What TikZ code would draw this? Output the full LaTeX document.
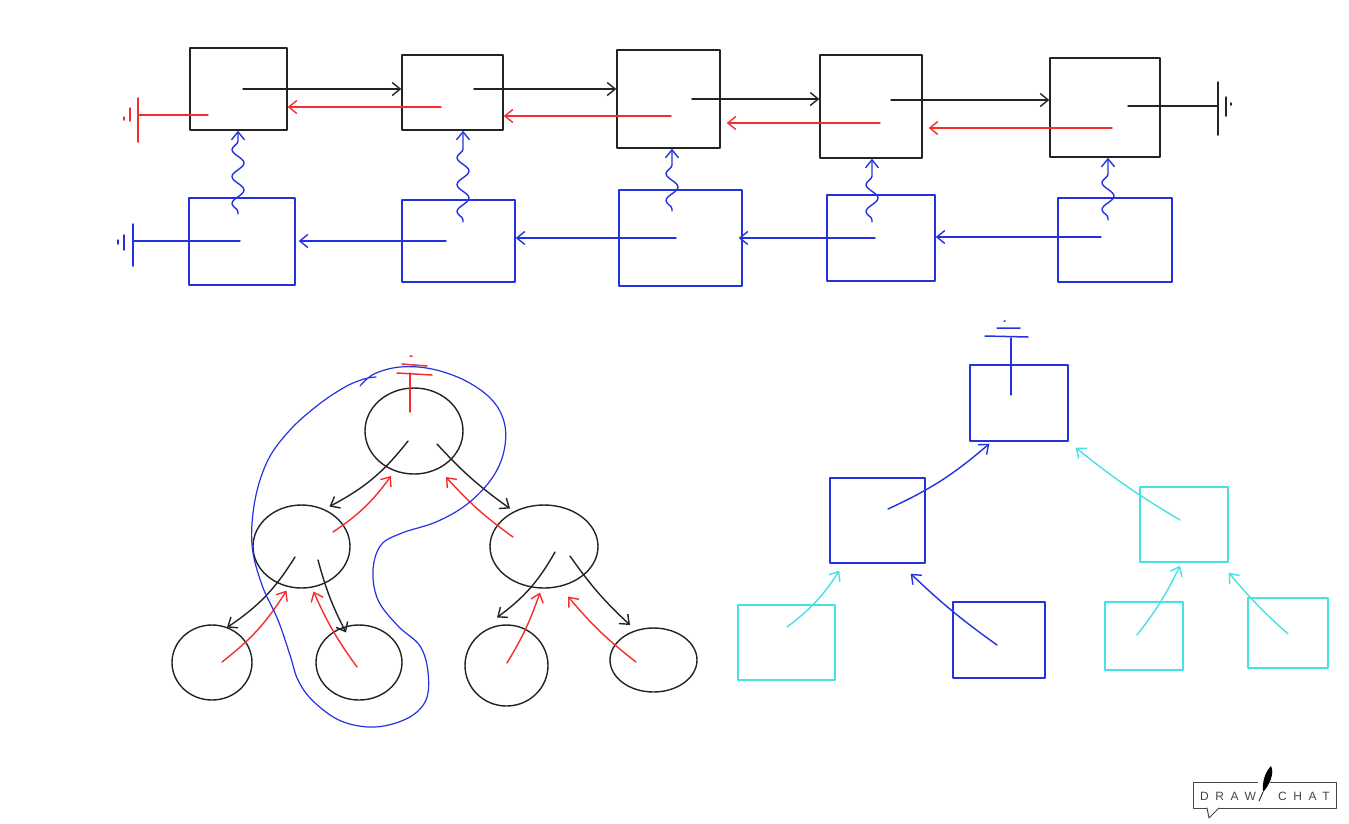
\documentclass[tikz,border=0pt]{standalone}
\usepackage{fontspec}
\newfontfamily\logofont[LetterSpace=55]{Liberation Sans}
\usetikzlibrary{shapes.geometric,arrows.meta,decorations.pathmorphing,calc}
\definecolor{skred}{RGB}{245,45,45}
\definecolor{skblue}{RGB}{35,50,225}
\definecolor{skcyan}{RGB}{70,225,225}
\definecolor{skblack}{RGB}{35,35,35}
\definecolor{skgray}{RGB}{70,70,70}
\begin{document}
\begin{tikzpicture}[x=1pt,y=-1pt, line width=1.4pt, line cap=round, line join=round,
  box/.style={draw, rectangle, inner sep=0pt},
  blob/.style={draw, ellipse, inner sep=0pt},
  tip/.style={-{Straight Barb[length=8pt,width=13pt]}},
  wave/.style={decorate, decoration={snake, amplitude=6pt, segment length=27pt, pre length=2pt, post length=8pt}},
  gnd/.style={line width=1.5pt}
]
\useasboundingbox (0,0) rectangle (1349,823);

% ---------- top row: black boxes ----------
\node[box, skblack, minimum width=97pt, minimum height=82pt] (B1) at (238.5,89) {};
\node[box, skblack, minimum width=101pt, minimum height=75pt] (B2) at (452.5,92.5) {};
\node[box, skblack, minimum width=103pt, minimum height=98pt] (B3) at (668.5,99) {};
\node[box, skblack, minimum width=102pt, minimum height=103pt] (B4) at (871,106.5) {};
\node[box, skblack, minimum width=110pt, minimum height=99pt] (B5) at (1105,107.5) {};

% ---------- second row: blue boxes ----------
\node[box, skblue, minimum width=106pt, minimum height=87pt] (L1) at (242,241.5) {};
\node[box, skblue, minimum width=113pt, minimum height=82pt] (L2) at (458.5,241) {};
\node[box, skblue, minimum width=123pt, minimum height=96pt] (L3) at (680.5,238) {};
\node[box, skblue, minimum width=108pt, minimum height=86pt] (L4) at (881,238) {};
\node[box, skblue, minimum width=114pt, minimum height=84pt] (L5) at (1115,240) {};

% black forward arrows
\coordinate (k1) at (243,89);
\coordinate (k2) at (474,89);
\coordinate (k3) at (692,99);
\coordinate (k4) at (891,100);
\coordinate (k5) at (1128,106);
\coordinate (gk) at (1218,106);
\draw[skblack, tip] (k1) -- (k1 -| B2.west);
\draw[skblack, tip] (k2) -- (k2 -| B3.west);
\draw[skblack, tip] (k3) -- (k3 -| B4.west);
\draw[skblack, tip] (k4) -- (k4 -| B5.west);
\draw[skblack] (k5) -- (gk);
\draw[skblack, gnd] (1218,82) -- (1218,135) (1226,97) -- (1226,116) (1231,103) -- (1231,105);

% red backward arrows
\coordinate (r1) at (208,115);
\coordinate (gr) at (138,115);
\coordinate (r2) at (441,107);
\coordinate (r3) at (671,116);
\coordinate (r4) at (880,123);
\coordinate (r5) at (1112,128);
\draw[skred] (r1) -- (gr);
\draw[skred, gnd] (138,98) -- (138,142) (130,108) -- (130,121) (124,117) -- (124,120);
\draw[skred, tip] (r2) -- (r2 -| B1.east);
\draw[skred, tip] (r3) -- (r3 -| B2.east);
\draw[skred, tip] (r4) -- ($(r4 -| B3.east)+(6,0)$);
\draw[skred, tip] (r5) -- ($(r5 -| B4.east)+(6,0)$);

% blue backward arrows
\coordinate (u1) at (240,241);
\coordinate (gu) at (133,241);
\coordinate (u2) at (446,241);
\coordinate (u3) at (676,238);
\coordinate (u4) at (875,238);
\coordinate (u5) at (1101,237);
\draw[skblue] (u1) -- (gu);
\draw[skblue, gnd] (133,224) -- (133,266) (124,235) -- (124,250) (118,240) -- (118,244);
\draw[skblue, tip] (u2) -- ($(u2 -| L1.east)+(3,0)$);
\draw[skblue, tip] (u3) -- (u3 -| L2.east);
\draw[skblue, tip] (u4) -- ($(u4 -| L3.east)+(-4,0)$);
\draw[skblue, tip] (u5) -- (u5 -| L4.east);

% wavy links
\coordinate (w1) at (238,214);
\coordinate (w2) at (463,222);
\coordinate (w3) at (672,211);
\coordinate (w4) at (872,222);
\coordinate (w5) at (1108,220);
\draw[skblue, tip, wave] (w1) -- (w1 |- B1.south);
\draw[skblue, tip, wave] (w2) -- (w2 |- B2.south);
\draw[skblue, tip, wave] (w3) -- (w3 |- B3.south);
\draw[skblue, tip, wave] (w4) -- (w4 |- B4.south);
\draw[skblue, tip, wave] (w5) -- (w5 |- B5.south);

% ---------- bottom-left tree ----------
\node[blob, skblack, minimum width=98pt, minimum height=86pt] (T0) at (414,431) {};
\node[blob, skblack, minimum width=97pt, minimum height=83pt] (TL) at (301.5,546.5) {};
\node[blob, skblack, minimum width=108pt, minimum height=83pt] (TR) at (544,546.5) {};
\node[blob, skblack, minimum width=80pt, minimum height=75pt] (TLL) at (212,662.5) {};
\node[blob, skblack, minimum width=86pt, minimum height=75pt] (TLR) at (359,662.5) {};
\node[blob, skblack, minimum width=83pt, minimum height=81pt] (TRL) at (506.5,665.5) {};
\node[blob, skblack, minimum width=87pt, minimum height=64pt] (TRR) at (653.5,660) {};

\coordinate (ta1) at (408,441);
\coordinate (ta2) at (437,444);
\coordinate (ta3) at (295,557);
\coordinate (ta4) at (318,560);
\coordinate (ta5) at (555,552);
\coordinate (ta6) at (570,556);
\draw[skblack, tip] (ta1) to[bend left=12] ($(TL.center)+(28,-40)$);
\draw[skblack, tip] (ta2) to[bend right=6] ($(TR.center)+(-34,-38)$);
\draw[skblack, tip] (ta3) to[bend left=12] ($(TLL.center)+(15,-35)$);
\draw[skblack, tip] (ta4) to[bend right=6] ($(TLR.center)+(-13,-30)$);
\draw[skblack, tip] (ta5) to[bend left=12] ($(TRL.center)+(-9.5,-48)$);
\draw[skblack, tip] (ta6) to[bend right=6] ($(TRR.center)+(-23.5,-35)$);

\coordinate (tr1) at (333,532);
\coordinate (tr2) at (513,537);
\coordinate (tr3) at (222,662);
\coordinate (tr4) at (357,667);
\coordinate (tr5) at (507,663);
\coordinate (tr6) at (636,662);
\draw[skred, tip] (tr1) to[bend right=10] ($(T0.center)+(-23,45)$);
\draw[skred, tip] (tr2) to[bend left=6] ($(T0.center)+(32,46)$);
\draw[skred, tip] (tr3) to[bend right=10] ($(TL.center)+(-15,44)$);
\draw[skred, tip] (tr4) to[bend left=6] ($(TL.center)+(12,45)$);
\draw[skred, tip] (tr5) to[bend right=6] ($(TR.center)+(-4,46)$);
\draw[skred, tip] (tr6) to[bend left=6] ($(TR.center)+(24,50)$);

% red ground above root
\coordinate (gt) at (410,412);
\draw[skred] (gt) -- (410,373);
\draw[skred, gnd] (397,373) -- (432,375) (402,364) -- (427,366) (410,356) -- (412,356);

% blue loop
\draw[skblue, line width=1.2pt] plot[smooth, tension=0.6] coordinates {
 (360,386) (374,374) (400,367) (432,369) (466,381) (493,401) (505,426) (503,455)
 (490,481) (466,505) (436,522) (402,533) (381,545) (373,570) (378,600) (398,626)
 (420,646) (428,672) (426,700) (408,718) (375,727) (341,721) (313,701) (298,680)
 (290,655) (278,620) (262,585) (252,545) (255,500) (268,460) (290,430) (318,405)
 (345,387) (364,379) (376,377)};

% ---------- bottom-right tree ----------
\node[box, skblue, minimum width=98pt, minimum height=76pt] (R0) at (1019,403) {};
\node[box, skblue, minimum width=95pt, minimum height=85pt] (RL) at (877.5,520.5) {};
\node[box, skcyan, minimum width=88pt, minimum height=75pt] (RR) at (1184,524.5) {};
\node[box, skcyan, minimum width=97pt, minimum height=75pt] (RLL) at (786.5,642.5) {};
\node[box, skblue, minimum width=92pt, minimum height=76pt] (RLR) at (999,640) {};
\node[box, skcyan, minimum width=78pt, minimum height=68pt] (RRL) at (1144,636) {};
\node[box, skcyan, minimum width=80pt, minimum height=70pt] (RRR) at (1288,633) {};

\coordinate (ra1) at (888,509);
\coordinate (ra2) at (1180,520);
\coordinate (ra3) at (787,627);
\coordinate (ra4) at (997,645);
\coordinate (ra5) at (1137,635);
\coordinate (ra6) at (1288,634);
\draw[skblue, tip] (ra1) to[bend right=8] ($(R0.south west)+(20,2)$);
\draw[skcyan, tip] (ra2) to[bend left=4] ($(R0.south east)+(7,6)$);
\draw[skcyan, tip] (ra3) to[bend right=10] ($(RL.south west)+(10,7)$);
\draw[skblue, tip] (ra4) to[bend left=4] ($(RL.south east)+(-15,10)$);
\draw[skcyan, tip] (ra5) to[bend right=6] ($(RR.south)+(-4,3)$);
\draw[skcyan, tip] (ra6) to[bend left=4] ($(RR.south east)+(0,10)$);

\coordinate (gb) at (1011,395);
\draw[skblue] (gb) -- (1011,338);
\draw[skblue, gnd] (985,336) -- (1028,337) (997,328) -- (1020,328) (1004,321) -- (1005,321);

% ---------- logo ----------
\draw[skgray, line width=1pt, line cap=butt] (1193,782) rectangle (1336,808);
\fill[white] (1207,807) rectangle (1219,809.5);
\draw[skgray, line width=1pt] (1207,808) -- (1209,818) -- (1219,808);
\fill[white] (1258,781) rectangle (1270,783);
\fill[black] (1271,766) .. controls (1275,773) and (1269,786) .. (1263,792)
  .. controls (1262,782) and (1265,772) .. (1271,766);
\draw[black, line width=0.8pt] (1263,792) -- (1259,801);
\node[text=skgray, font=\logofont\fontsize{12}{12}\selectfont, inner sep=0pt] (dw) at (1228,796) {DRAW};
\node[text=skgray, font=\logofont\fontsize{12}{12}\selectfont, inner sep=0pt] (ch) at (1304,796) {CHAT};
\end{tikzpicture}
\end{document}
